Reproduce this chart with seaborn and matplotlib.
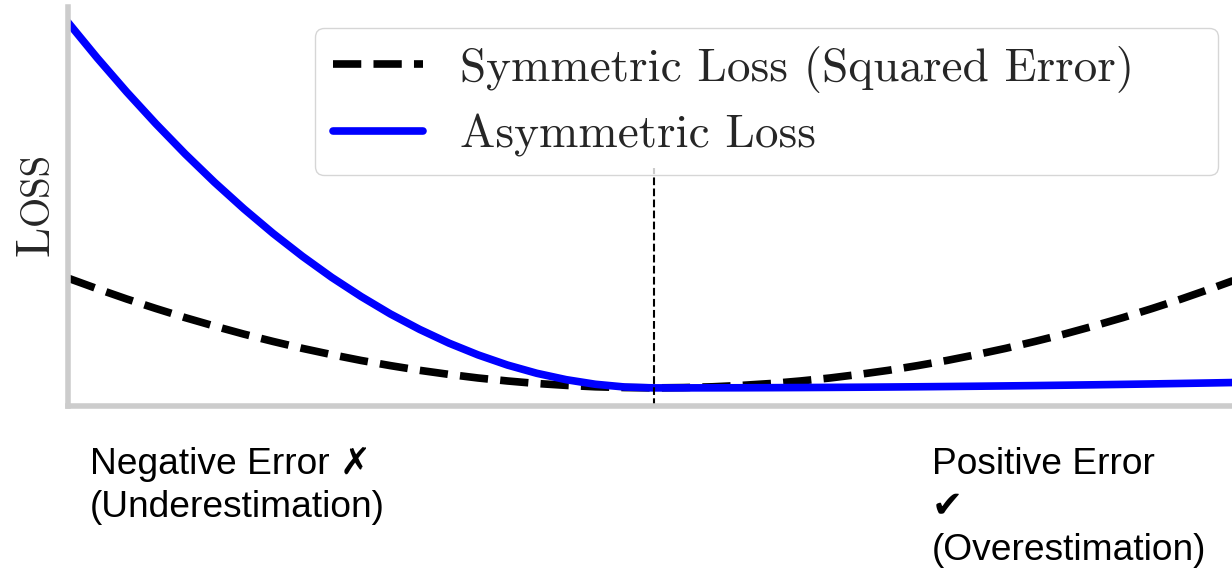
import numpy as np
import pandas as pd
import matplotlib
matplotlib.use("Agg")
import matplotlib.pyplot as plt
import seaborn as sns

# error (prediction - true) and the two loss curves
erro = [-1.00, -0.95, -0.90, -0.85, -0.80, -0.75, -0.70, -0.65, -0.60, -0.55, -0.50,
        -0.45, -0.40, -0.35, -0.30, -0.25, -0.20, -0.15, -0.10, -0.05, 0.00,
        0.05, 0.10, 0.15, 0.20, 0.25, 0.30, 0.35, 0.40, 0.45, 0.50,
        0.55, 0.60, 0.65, 0.70, 0.75, 0.80, 0.85, 0.90, 0.95, 1.00]
perda_simetrica = [1.000, 0.903, 0.810, 0.723, 0.640, 0.563, 0.490, 0.423, 0.360, 0.303, 0.250,
                   0.203, 0.160, 0.123, 0.090, 0.063, 0.040, 0.023, 0.010, 0.003, 0.000,
                   0.003, 0.010, 0.023, 0.040, 0.063, 0.090, 0.123, 0.160, 0.203, 0.250,
                   0.303, 0.360, 0.423, 0.490, 0.563, 0.640, 0.723, 0.810, 0.903, 1.000]
perda_assimetrica = [3.330, 3.005, 2.697, 2.406, 2.131, 1.873, 1.632, 1.407, 1.199, 1.007, 0.833,
                     0.674, 0.533, 0.408, 0.300, 0.208, 0.133, 0.075, 0.033, 0.008, 0.000,
                     0.0001, 0.0005, 0.0011, 0.0020, 0.0031, 0.0045, 0.0061, 0.0080, 0.0101, 0.0125,
                     0.0151, 0.0180, 0.0211, 0.0245, 0.0281, 0.0320, 0.0361, 0.0405, 0.0451, 0.0500]

rotulos = ["Symmetric Loss (Squared Error)", "Asymmetric Loss"]
texto_neg = "Negative Error \u2717\n(Underestimation)"
texto_pos = "Positive Error\n\u2714\ufe0f\n(Overestimation)"

df = pd.DataFrame({"erro": erro, "sim": perda_simetrica, "assim": perda_assimetrica})

sns.set_style("white")
plt.rcParams["axes.edgecolor"] = "0.8"
plt.rcParams["axes.linewidth"] = 4

W, H = 1232, 570
fig = plt.figure(figsize=(W / 100, H / 100), dpi=100)
# axes runs a bit past the right edge (the original picture was cropped)
ax = fig.add_axes([68 / W, 164 / H, 1172 / W, 399 / H])

sns.lineplot(data=df, x="erro", y="sim", ax=ax, color="black", linestyle="--",
             linewidth=5.5, label=rotulos[0])
sns.lineplot(data=df, x="erro", y="assim", ax=ax, color="blue",
             linewidth=5.5, label=rotulos[1])

ymin, ymax = -0.165, 3.47
ax.vlines(0, ymin, 2.0, colors="black", linestyles="--", linewidth=1.5)
ax.set_xlim(-1, 1)
ax.set_ylim(ymin, ymax)
ax.set_xticks([])
ax.set_yticks([])
ax.set_xlabel("")
ax.set_ylabel("")
sns.despine(ax=ax)

ax.legend(loc="upper left", bbox_to_anchor=(315 / W, 1 - 175 / H, 903 / W, 147 / H),
          bbox_transform=fig.transFigure, borderaxespad=0, frameon=True, mode="expand",
          prop={"family": "cmr10", "size": 34}, handlelength=1.9,
          handletextpad=0.8, labelspacing=0.45, borderpad=0.38)

# y label "Loss" in small caps: big L, smaller OSS
fig.canvas.draw()
r = fig.canvas.get_renderer()
xb = 48 / W
tL = fig.text(xb, 0, "L", rotation=90, rotation_mode="anchor", ha="left",
              va="baseline", family="cmr10", fontsize=35)
tO = fig.text(xb, 0, "OSS", rotation=90, rotation_mode="anchor", ha="left",
              va="baseline", family="cmr10", fontsize=28)
hL = tL.get_window_extent(r).height
hO = tO.get_window_extent(r).height
y0 = (H - 204) - (hL + hO) / 2
tL.set_y(y0 / H)
tO.set_y((y0 + hL) / H)

fam = ["Liberation Sans", "DejaVu Sans"]
fig.text(90 / W, 1 - 447 / H, texto_neg, family=fam, fontsize=26.7, color="black",
         ha="left", va="top", linespacing=1.29)
fig.text(932 / W, 1 - 447 / H, texto_pos, family=fam, fontsize=26.7, color="black",
         ha="left", va="top", linespacing=1.29)

fig.savefig("out.png", dpi=100)
